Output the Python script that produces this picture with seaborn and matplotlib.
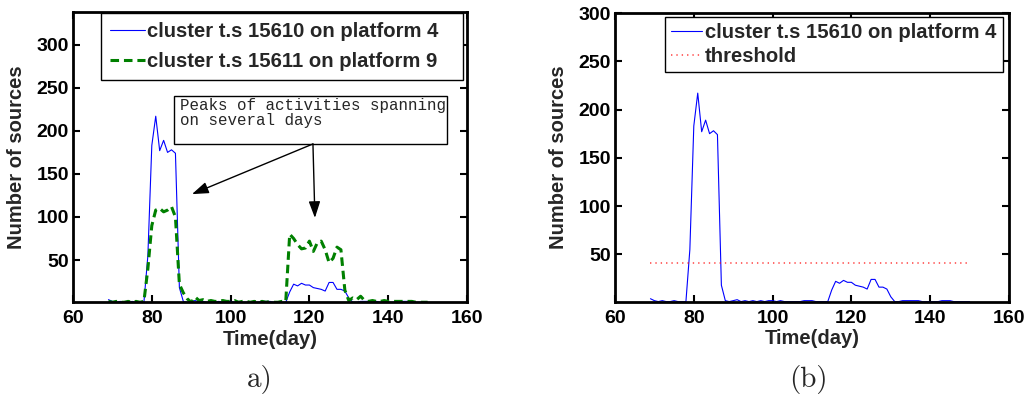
import numpy as np
import pandas as pd
import matplotlib
matplotlib.use("Agg")
import matplotlib.pyplot as plt
from matplotlib.patches import Rectangle
import seaborn as sns

# ---- data -----------------------------------------------------------------
days = list(range(69, 151))

# cluster t.s 15610 on platform 4 (number of sources per day)
platform4 = [4, 2, 1, 2, 1, 1, 2, 1, 1, 1,
             55, 183, 217, 177, 189, 175, 178, 174, 18, 2,
             1, 2, 3, 1, 2, 1, 2, 1, 2, 1,
             2, 2, 1, 2, 1, 1, 1, 1, 1, 2,
             2, 2, 1, 1, 1, 1, 13, 22, 20, 23,
             21, 21, 18, 17, 16, 14, 24, 24, 16, 16,
             14, 6, 1, 1, 2, 2, 2, 2, 2, 1,
             1, 1, 1, 1, 2, 2, 2, 1, 1, 1,
             1, 1]

# cluster t.s 15611 on platform 9
platform9 = [2, 1, 2, 1, 1, 2, 1, 2, 1, 2,
             40, 90, 108, 110, 106, 108, 112, 100, 22, 12,
             5, 1, 7, 3, 4, 2, 3, 2, 2, 3,
             2, 2, 3, 1, 2, 2, 1, 2, 1, 2,
             1, 2, 1, 1, 2, 2, 80, 75, 68, 63,
             64, 72, 60, 70, 72, 62, 47, 52, 65, 62,
             15, 3, 6, 4, 8, 3, 2, 3, 2, 2,
             3, 2, 2, 2, 2, 2, 2, 2, 1, 1,
             1, 1]

threshold_value = 41.5

label_p4 = "cluster t.s 15610 on platform 4"
label_p9 = "cluster t.s 15611 on platform 9"
label_thr = "threshold"
note_text = "Peaks of activities spanning\non several days"

x_ticks = [60, 80, 100, 120, 140, 160]
y_ticks = [50, 100, 150, 200, 250, 300]

df = pd.DataFrame({"day": days, "p4": platform4, "p9": platform9,
                   "thr": [threshold_value] * len(days)})

# ---- style ----------------------------------------------------------------
sns.set_theme(style="ticks")
plt.rcParams["font.family"] = ["Liberation Sans", "DejaVu Sans"]
plt.rcParams["font.weight"] = "bold"
plt.rcParams["axes.labelweight"] = "bold"

W, H = 1028, 399
fig = plt.figure(figsize=(W / 100, H / 100), dpi=100)
fig.patch.set_facecolor("white")

ax1 = fig.add_axes([73 / W, 1 - 302 / H, 394 / W, 290 / H])
ax2 = fig.add_axes([615 / W, 1 - 302 / H, 394 / W, 289 / H])

BLUE = "#0000ff"
GREEN = "#008000"
RED = "#ff0000"

# left panel: both clusters
sns.lineplot(data=df, x="day", y="p4", ax=ax1, color=BLUE, lw=0.8,
             estimator=None, label=label_p4, legend=False)
sns.lineplot(data=df, x="day", y="p9", ax=ax1, color=GREEN, lw=2.2,
             linestyle=(0, (2.8, 1.6)), estimator=None, label=label_p9,
             legend=False)

# right panel: one cluster with its detection threshold
sns.lineplot(data=df, x="day", y="p4", ax=ax2, color=BLUE, lw=0.8,
             estimator=None, label=label_p4, legend=False)
sns.lineplot(data=df, x="day", y="thr", ax=ax2, color=RED, lw=1.1,
             linestyle=(0, (0.9, 2.6)), estimator=None, label=label_thr,
             legend=False, alpha=0.75)

ax1.set_ylim(1.3, 338)
ax2.set_ylim(0.6, 300)

for ax in (ax1, ax2):
    ax.set_facecolor("white")
    ax.set_xlim(60, 160)
    ax.set_xticks(x_ticks)
    ax.set_yticks(y_ticks)
    ax.tick_params(direction="in", length=5, width=1.5, top=True, right=True,
                   labelsize=14, pad=6, colors="black")
    ax.tick_params(axis="y", pad=3)
    for lab in ax.get_xticklabels() + ax.get_yticklabels():
        lab.set_fontweight("bold")
    for sp in ax.spines.values():
        sp.set_visible(True)
        sp.set_linewidth(2.0)
        sp.set_color("black")
    ax.set_xlabel("Time(day)", fontsize=14.5, fontweight="bold")
    ax.set_ylabel("Number of sources", fontsize=14.5, fontweight="bold")
    ax.xaxis.set_label_coords(0.5, -0.095)
    ax.yaxis.set_label_coords(-0.119, 0.5)
    ax.grid(False)

# legends, stretched across a fixed frame width
def add_legend(ax, left, right, top, height, hlen, hpad, bpad, lspace):
    leg = ax.legend(loc="upper left",
                    bbox_to_anchor=(left / W, 1 - (top + height) / H,
                                    (right - left) / W, height / H),
                    bbox_transform=fig.transFigure, mode="expand",
                    borderaxespad=0, frameon=True, fancybox=False,
                    edgecolor="black", framealpha=1,
                    prop={"weight": "bold", "size": 14.6},
                    handlelength=hlen, handletextpad=hpad,
                    borderpad=bpad, labelspacing=lspace)
    leg.get_frame().set_linewidth(1.0)
    leg.set_zorder(10)
    return leg

add_legend(ax1, 101, 463, 12.7, 60, 1.7, 0.1, 0.45, 0.55)
add_legend(ax2, 665, 1003, 16.7, 54, 1.5, 0.18, 0.3, 0.26)

# annotation box with two arrows on the left panel
box = Rectangle((0.256, 0.544), 0.948 - 0.256, 0.710 - 0.544,
                transform=ax1.transAxes, facecolor="white", edgecolor="black",
                lw=1.0, zorder=8, clip_on=False)
ax1.add_patch(box)
ax1.text(0.272, 0.702, note_text, transform=ax1.transAxes, ha="left",
         va="top", fontsize=11.4, family="Liberation Mono", fontweight="normal",
         linespacing=1.0, zorder=9)
arrow_kw = dict(arrowstyle="-|>,head_length=1.0,head_width=0.35",
                color="black", lw=1.0, shrinkA=0, shrinkB=0,
                mutation_scale=10)
for head in [(0.302, 0.372), (0.614, 0.290)]:
    ax1.annotate("", xy=head, xycoords="axes fraction",
                 xytext=(0.609, 0.545), textcoords="axes fraction",
                 arrowprops=arrow_kw, zorder=9)

# panel captions
fig.text(260 / W, 1 - 380 / H, "a)", ha="center", va="center",
         family="cmr10", fontsize=21, fontweight="normal")
fig.text(808 / W, 1 - 380 / H, "(b)", ha="center", va="center",
         family="cmr10", fontsize=21, fontweight="normal")

fig.savefig("out.png", dpi=100, facecolor="white")
